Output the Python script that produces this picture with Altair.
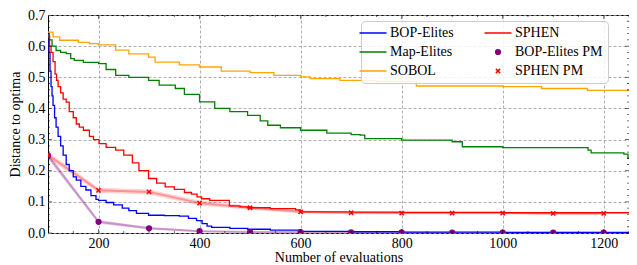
import altair as alt
import pandas as pd

SERIES = ["BOP-Elites", "Map-Elites", "SOBOL", "SPHEN", "BOP-Elites PM", "SPHEN PM"]
COLORS = ["#0000ff", "#008000", "#ffa500", "#ff0000", "#800080", "#ff0000"]
LINE_SYM = "M-3,0L3,0"
SHAPES = [LINE_SYM, LINE_SYM, LINE_SYM, LINE_SYM, "circle", "M-1,-1L1,1M-1,1L1,-1"]
SIZES = [81, 81, 81, 81, 22, 18]
FILLS = ["transparent", "transparent", "transparent", "transparent", "#800080", "transparent"]

bop_x = [100, 102, 104, 106, 108, 110, 113, 116, 120, 125, 130, 136, 142, 150, 156, 165, 175, 185, 195,
         200, 215, 230, 247, 260, 275, 299, 330, 360, 378, 394, 405, 415, 424, 460, 495, 540, 600, 700,
         800, 900, 1000, 1100, 1250]
bop_y = [0.64, 0.58, 0.52, 0.47, 0.44, 0.41, 0.37, 0.34, 0.31, 0.28, 0.25, 0.22, 0.20, 0.18, 0.17, 0.15,
         0.138, 0.12, 0.108, 0.105, 0.098, 0.09, 0.08, 0.072, 0.063, 0.057, 0.056, 0.054, 0.047, 0.04,
         0.03, 0.022, 0.018, 0.015, 0.012, 0.009, 0.005, 0.004, 0.003, 0.003, 0.002, 0.002, 0.002]

sphen_x = [100, 103, 106, 110, 114, 117, 120, 125, 130, 136, 142, 150, 156, 162, 170, 182, 190, 201, 215,
           234, 250, 267, 280, 299, 315, 332, 350, 370, 384, 395, 404, 420, 459, 480, 495, 540, 590, 600,
           700, 800, 1000, 1250]
sphen_y = [0.63, 0.60, 0.58, 0.55, 0.51, 0.49, 0.47, 0.45, 0.43, 0.42, 0.39, 0.37, 0.35, 0.34, 0.33, 0.31,
           0.30, 0.287, 0.275, 0.266, 0.25, 0.225, 0.20, 0.175, 0.16, 0.148, 0.14, 0.13, 0.125, 0.116,
           0.11, 0.105, 0.087, 0.084, 0.081, 0.078, 0.074, 0.068, 0.067, 0.066, 0.065, 0.064]

map_x = [100, 103, 108, 116, 125, 136, 145, 152, 170, 200, 215, 234, 260, 299, 320, 352, 370, 400, 430,
         460, 495, 520, 535, 560, 600, 652, 700, 718, 727, 800, 900, 920, 1000, 1169, 1175, 1240, 1248, 1250]
map_y = [0.635, 0.62, 0.60, 0.586, 0.58, 0.576, 0.56, 0.554, 0.548, 0.544, 0.525, 0.506, 0.50, 0.49,
         0.475, 0.464, 0.445, 0.421, 0.40, 0.39, 0.378, 0.36, 0.346, 0.338, 0.33, 0.321, 0.316, 0.314,
         0.303, 0.298, 0.293, 0.277, 0.274, 0.266, 0.257, 0.253, 0.24, 0.24]

sobol_x = [100, 110, 123, 160, 182, 200, 234, 260, 299, 312, 360, 400, 443, 500, 547, 600, 619, 678, 750,
           829, 1000, 1077, 1168, 1250]
sobol_y = [0.645, 0.63, 0.619, 0.612, 0.608, 0.604, 0.587, 0.575, 0.565, 0.549, 0.54, 0.533, 0.52,
           0.515, 0.506, 0.501, 0.496, 0.49, 0.486, 0.472, 0.47, 0.464, 0.458, 0.456]

pm_x = [100, 200, 300, 400, 500, 600, 700, 800, 900, 1000, 1100, 1200]
bop_pm_y = [0.248, 0.036, 0.015, 0.006, 0.003, 0.003, 0.002, 0.002, 0.001, 0.001, 0.001, 0.001]
bop_pm_sd = [0.01, 0.006, 0.004, 0.003, 0.002, 0.002, 0.002, 0.002, 0.001, 0.001, 0.001, 0.001]
sphen_pm_y = [0.25, 0.137, 0.132, 0.096, 0.081, 0.068, 0.065, 0.064, 0.064, 0.064, 0.063, 0.063]
sphen_pm_sd = [0.01, 0.008, 0.008, 0.008, 0.006, 0.005, 0.004, 0.004, 0.004, 0.004, 0.004, 0.004]

x_ticks = [200, 400, 600, 800, 1000, 1200]
x_minor = [150, 250, 300, 350, 450, 500, 550, 650, 700, 750, 850, 900, 950, 1050, 1100, 1150, 1250]
y_ticks = [0.0, 0.1, 0.2, 0.3, 0.4, 0.5, 0.6, 0.7]
y_minor = [0.02, 0.04, 0.06, 0.08, 0.12, 0.14, 0.16, 0.18, 0.22, 0.24, 0.26, 0.28, 0.32, 0.34, 0.36,
           0.38, 0.42, 0.44, 0.46, 0.48, 0.52, 0.54, 0.56, 0.58, 0.62, 0.64, 0.66, 0.68]

FONT = "Liberation Serif"
XT = "Number of evaluations"
YT = "Distance to optima"

rows = []
for name, xs, ys in [("BOP-Elites", bop_x, bop_y), ("SPHEN", sphen_x, sphen_y),
                     ("Map-Elites", map_x, map_y), ("SOBOL", sobol_x, sobol_y)]:
    for a, b in zip(xs, ys):
        rows.append({"series": name, "x": a, "y": b})
lines_df = pd.DataFrame(rows)

prow = []
for name, ys, sd in [("BOP-Elites PM", bop_pm_y, bop_pm_sd), ("SPHEN PM", sphen_pm_y, sphen_pm_sd)]:
    for a, b, s in zip(pm_x, ys, sd):
        prow.append({"series": name, "x": a, "y": b, "lo": max(b - s, 0), "hi": b + s})
pm_df = pd.DataFrame(prow)

xscale = alt.Scale(domain=[100, 1250], nice=False, zero=False)
yscale = alt.Scale(domain=[0, 0.7], nice=False)
cscale = alt.Scale(domain=SERIES, range=COLORS)

x_axis = alt.Axis(values=x_ticks, format="d", grid=True, ticks=False, domain=False,
                  labelPadding=3, titlePadding=0)
y_axis = alt.Axis(values=y_ticks, format=".1f", grid=True, ticks=False, domain=False,
                  labelPadding=3, titlePadding=5)
xenc = alt.X("x:Q", scale=xscale, title=XT, axis=x_axis)
yenc = alt.Y("y:Q", scale=yscale, title=YT, axis=y_axis)
color = alt.Color("series:N", scale=cscale, title=None)

band = alt.Chart(pm_df).mark_area(opacity=0.18, clip=True).encode(
    x=xenc, y=alt.Y("lo:Q", scale=yscale, title=YT, axis=y_axis),
    y2="hi:Q", color=color)
pm_line = alt.Chart(pm_df).mark_line(opacity=0.3, strokeWidth=2, clip=True).encode(
    x=xenc, y=yenc, color=color)
main = alt.Chart(lines_df).mark_line(interpolate="step-after", strokeWidth=1.3, clip=True).encode(
    x=xenc, y=yenc, color=color)
pts = alt.Chart(pm_df).mark_point(filled=False, strokeWidth=1.5, opacity=1, clip=True).encode(
    x=xenc, y=yenc,
    color=color,
    shape=alt.Shape("series:N", scale=alt.Scale(domain=SERIES, range=SHAPES), title=None),
    size=alt.Size("series:N", scale=alt.Scale(type="ordinal", domain=SERIES, range=SIZES), title=None),
    fill=alt.Fill("series:N", scale=alt.Scale(domain=SERIES, range=FILLS), title=None),
)


def xtick_layer(values, length, edge):
    df = pd.DataFrame({"v": values})
    return alt.Chart(df).mark_tick(orient="vertical", size=2 * length, thickness=0.8,
                                   color="black", clip=True).encode(
        x=alt.X("v:Q", scale=xscale, title=XT, axis=x_axis),
        y=alt.YDatum(edge, scale=yscale, title=YT, axis=y_axis))


def ytick_layer(values, length, edge):
    df = pd.DataFrame({"v": values})
    return alt.Chart(df).mark_tick(orient="horizontal", size=2 * length, thickness=0.8,
                                   color="black", clip=True).encode(
        y=alt.Y("v:Q", scale=yscale, title=YT, axis=y_axis),
        x=alt.XDatum(edge, scale=xscale, title=XT, axis=x_axis))


ticks = [
    xtick_layer(x_ticks, 4, 0.0), xtick_layer(x_ticks, 4, 0.7),
    xtick_layer(x_minor, 2, 0.0), xtick_layer(x_minor, 2, 0.7),
    ytick_layer(y_ticks, 4, 100), ytick_layer(y_ticks, 4, 1250),
    ytick_layer(y_minor, 2, 100), ytick_layer(y_minor, 2, 1250),
]

chart = alt.layer(band, pm_line, main, pts, *ticks).properties(
    width=581, height=218, padding=0
).configure_view(stroke="black", strokeWidth=1).configure_axis(
    labelFont=FONT, titleFont=FONT, labelFontSize=14, titleFontSize=14, titleFontWeight="normal",
    labelColor="black", titleColor="black",
    gridColor="#9a9a9a", gridDash=[3, 2], gridWidth=0.8,
).configure_legend(
    orient="none", legendX=313, legendY=6, columns=2, title=None,
    labelFont=FONT, labelFontSize=14, labelColor="black", symbolOpacity=1,
    fillColor="rgba(255,255,255,0.85)", strokeColor="#cccccc", cornerRadius=4,
    padding=5, rowPadding=5, columnPadding=27, labelOffset=10, symbolStrokeWidth=1.5,
)

chart.save("out.html", embed_options={"renderer": "svg", "actions": False})
